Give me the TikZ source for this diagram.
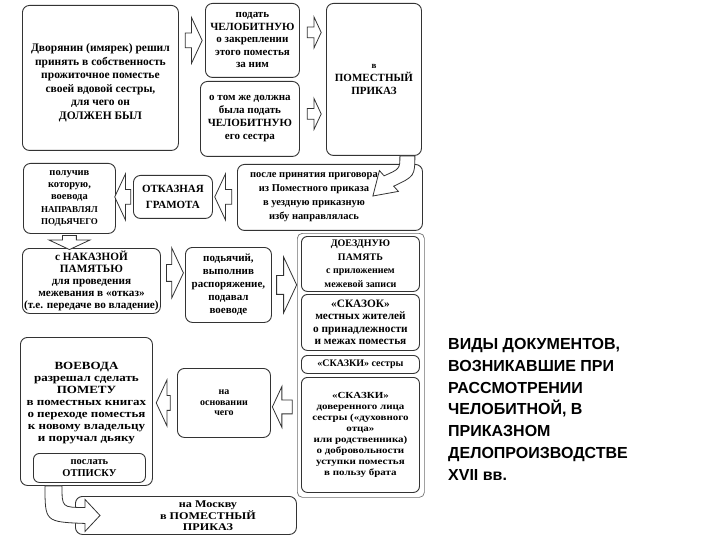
\documentclass[tikz,border=0pt]{standalone}
\usepackage{fontspec}
\setmainfont{Liberation Serif}
\setsansfont{Liberation Sans}
\newfontfamily\widefont[FakeStretch=1.18]{Liberation Serif}
\usepackage{xcolor}
\definecolor{cLine}{HTML}{333333}
\definecolor{cFrame}{HTML}{6E6E6E}
\usepackage{tikz}
\usetikzlibrary{positioning,calc,shapes.arrows}
\tikzset{
  doc-box/.style={draw=cLine,line width=0.9pt,rounded corners=7pt,fill=white,
    anchor=north west,inner sep=0pt,align=center,
    font=\bfseries\fontsize{10.5}{12.5}\selectfont},
  doc-sub/.style={doc-box,rounded corners=6pt},
  doc-frame/.style={draw=cFrame,line width=0.7pt,rounded corners=5pt,
    anchor=north west,inner sep=0pt},
  doc-text/.style={align=center,inner sep=0pt,
    font=\bfseries\fontsize{10.5}{12.5}\selectfont},
  block-arrow/.style n args={3}{single arrow,draw=cLine,line width=0.8pt,
    fill=white,inner xsep=0pt,inner ysep=#2,single arrow tip angle=130,
    minimum height=#1,minimum width=0pt,single arrow head extend=#3},
  curve-arrow/.style={draw=cLine,line width=0.8pt,fill=white},
  title-text/.style={anchor=north west,align=left,inner sep=0pt,
    font=\sffamily\bfseries\fontsize{16}{21.7}\selectfont},
}
\newcommand{\capsline}[1]{{\fontsize{9}{12}\selectfont #1}}

\begin{document}
\begin{tikzpicture}[x=1pt,y=-1pt]
  \useasboundingbox (0,0) rectangle (720,540);
  % upper row: petitions
  \node[doc-box,minimum width=156pt,minimum height=145pt] (b1) at (22,5) {};
  \node[doc-text,font=\bfseries\fontsize{11.5}{13.5}\selectfont] (b1t)
    at ($(b1.center)+(0,5)$)
    {Дворянин (имярек) решил\\принять в собственность\\прожиточное поместье\\своей вдовой сестры,\\для чего он\\ДОЛЖЕН БЫЛ};
  \node[doc-box,minimum width=94pt,minimum height=74pt,
    font=\bfseries\fontsize{11}{12.5}\selectfont] (b2) at (205,3)
    {подать\\ЧЕЛОБИТНУЮ\\о закреплении\\этого поместья\\за ним};
  \node[doc-box,minimum width=99pt,minimum height=75pt,
    font=\bfseries\fontsize{11}{13}\selectfont] (b3) at (200,81)
    {о том же должна\\была подать\\ЧЕЛОБИТНУЮ\\его сестра};
  \node[doc-box,minimum width=95pt,minimum height=152pt,
    font=\bfseries\fontsize{11}{13}\selectfont] (b4) at (326,3)
    {{\fontsize{9}{13}\selectfont в}\\ПОМЕСТНЫЙ\\ПРИКАЗ};

  % second row: back to the province
  \node[doc-box,minimum width=185pt,minimum height=66pt] (b5) at (237,164) {};
  \node[doc-text,font=\bfseries\fontsize{10.5}{14}\selectfont] (b5t)
    at ($(b5.center)+(-16,0)$)
    {после принятия приговора\\из Поместного приказа\\в уездную приказную\\избу направлялась};
  \node[doc-box,minimum width=79pt,minimum height=43pt,
    font=\bfseries\fontsize{11}{16}\selectfont] (b6) at (133,175)
    {ОТКАЗНАЯ\\ГРАМОТА};
  \node[doc-box,minimum width=92pt,minimum height=70pt,
    font=\bfseries\fontsize{10.5}{12.3}\selectfont] (b7) at (23,163)
    {получив\\которую,\\воевода\\\capsline{НАПРАВЛЯЛ}\\\capsline{ПОДЬЯЧЕГО}};

  % third row: survey
  \node[doc-box,minimum width=138pt,minimum height=65pt,
    font=\bfseries\fontsize{11.2}{12}\selectfont] (b8) at (22,248)
    {с НАКАЗНОЙ\\ПАМЯТЬЮ\\для проведения\\межевания в «отказ»\\(т.е. передаче во владение)};
  \node[doc-box,minimum width=86pt,minimum height=75pt,
    font=\bfseries\fontsize{11}{13}\selectfont] (b9) at (185,247)
    {подьячий,\\выполнив\\распоряжение,\\подавал\\воеводе};

  % right column: documents of the survey
  \node[doc-frame,minimum width=127pt,minimum height=264pt] (b10) at (297,233) {};
  \node[doc-sub,minimum width=118pt,minimum height=55pt,
    font=\bfseries\fontsize{10}{13.5}\selectfont] (s1) at (301,236)
    {ДОЕЗДНУЮ\\ПАМЯТЬ\\с приложением\\межевой записи};
  \node[doc-sub,minimum width=118pt,minimum height=56pt,
    font=\bfseries\fontsize{11.3}{12.5}\selectfont] (s2) at (301,294)
    {«СКАЗОК»\\местных жителей\\о принадлежности\\и межах поместья};
  \node[doc-sub,minimum width=118pt,minimum height=18pt,
    font=\bfseries\fontsize{10}{12}\selectfont] (s3) at (301,355)
    {«СКАЗКИ» сестры};
  \node[doc-sub,minimum width=118pt,minimum height=115pt,
    font=\widefont\bfseries\fontsize{9.3}{11}\selectfont] (s4) at (301,377)
    {«СКАЗКИ»\\доверенного лица\\сестры («духовного\\отца»\\или родственника)\\о добровольности\\уступки поместья\\в пользу брата};

  % fourth row: the mark in the books
  \node[doc-box,minimum width=93pt,minimum height=69pt,
    font=\bfseries\fontsize{10}{10.5}\selectfont] (b11) at (177,368)
    {на\\основании\\чего};
  \node[doc-box,minimum width=132pt,minimum height=148pt] (b12) at (20,337) {};
  \node[doc-text,font=\widefont\bfseries\fontsize{11}{12}\selectfont] (b12t)
    at ($(b12.north)+(0,66)$)
    {ВОЕВОДА\\разрешал сделать\\ПОМЕТУ\\в поместных книгах\\о переходе поместья\\к новому владельцу\\и поручал дьяку};
  \node[doc-sub,minimum width=112pt,minimum height=29pt,
    font=\bfseries\fontsize{10.5}{12}\selectfont] (b12o) at (33,453)
    {послать\\ОТПИСКУ};
  \node[doc-box,minimum width=221pt,minimum height=38pt] (b13) at (75,496) {};
  \node[doc-text,font=\widefont\bfseries\fontsize{10.3}{10.5}\selectfont] (b13t)
    at ($(b13.center)+(22,0)$)
    {на Москву\\в ПОМЕСТНЫЙ\\ПРИКАЗ};

  % block arrows between the boxes
  \node[block-arrow={17pt}{7pt}{15.5pt}] (a1)
    at ($(b1.east|-b2.west)!0.5!(b2.west)$) {};
  \node[block-arrow={14pt}{5pt}{10pt}] (a2)
    at ($(b2.east)!0.5!(b4.west|-b2.east)+(0,-8)$) {};
  \node[block-arrow={14pt}{5pt}{10pt}] (a3)
    at ($(b3.east)!0.5!(b4.west|-b3.east)+(0,-5)$) {};
  \node[block-arrow={17pt}{7pt}{15.5pt},rotate=180] (a4)
    at ($(b6.east)!0.5!(b5.west|-b6.east)$) {};
  \node[block-arrow={16pt}{7pt}{15.5pt},rotate=180] (a5)
    at ($(b7.east|-b6.west)!0.5!(b6.west)$) {};
  \node[block-arrow={14pt}{6.5pt}{13.5pt},rotate=-90] (a6)
    at ($(b7.south)!0.5!(b7.south|-b8.north)$) {};
  \node[block-arrow={17pt}{8pt}{16.5pt}] (a7)
    at ($(b8.east)!0.5!(b9.west|-b8.east)+(0,-8)$) {};
  \node[block-arrow={20pt}{9pt}{18.5pt}] (a8)
    at ($(b9.east)!0.5!(b10.west|-b9.east)$) {};
  \node[block-arrow={20pt}{6.5pt}{13.5pt},rotate=180] (a9)
    at ($(b11.east)!0.5!(b10.west|-b11.east)+(0,4)$) {};
  \node[block-arrow={14pt}{7pt}{15.5pt},rotate=180] (a10)
    at ($(b12.east|-b11.west)!0.5!(b11.west)$) {};

  % curved arrows
  \coordinate (ca1) at ($(b4.south east)+(-22,0)$);
  \coordinate (ca2) at ($(b4.south east)+(-7,0)$);
  \coordinate (ta) at ($(b5.north east)+(-50,32)$);
  \draw[curve-arrow] (ca1) .. controls +(0,13) .. ($(ta)+(11.2,-20.2)$)
    -- ($(ta)+(6.5,-25.4)$) -- (ta) -- ($(ta)+(25.5,-4.6)$)
    -- ($(ta)+(20.8,-9.8)$) .. controls +(21,-10) .. (ca2) -- cycle;
  \coordinate (cb1) at ($(b12.south west)+(25,0)$);
  \coordinate (cb2) at ($(b12.south west)+(42,0)$);
  \coordinate (tb) at ($(b13.west)+(25,0)$);
  \draw[curve-arrow] (cb1) .. controls +(0,36) .. ($(tb)+(-15,8)$)
    -- ($(tb)+(-15,16)$) -- (tb) -- ($(tb)+(-15,-16)$)
    -- ($(tb)+(-15,-8)$) .. controls +(-23,0) .. (cb2) -- cycle;

  % title
  \node[title-text] (title) at (448,338.5)
    {ВИДЫ ДОКУМЕНТОВ,\\ВОЗНИКАВШИЕ ПРИ\\РАССМОТРЕНИИ\\ЧЕЛОБИТНОЙ, В\\ПРИКАЗНОМ\\ДЕЛОПРОИЗВОДСТВЕ\\XVII вв.};
\end{tikzpicture}
\end{document}
